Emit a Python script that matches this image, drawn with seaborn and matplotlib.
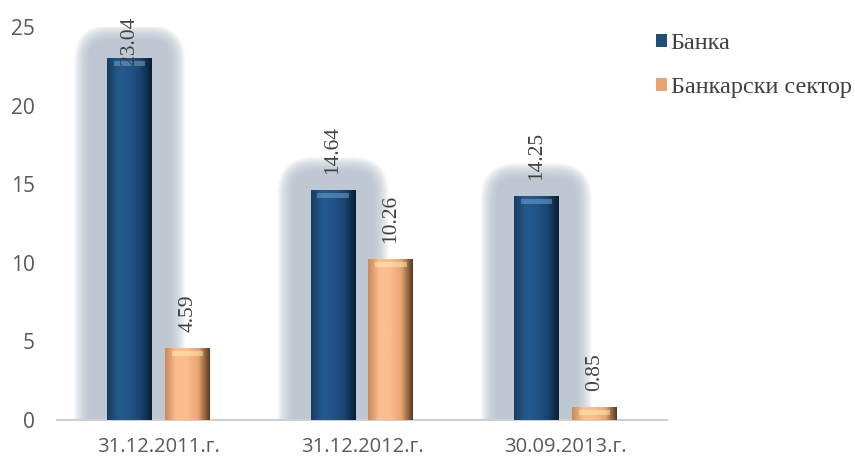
import numpy as np
import pandas as pd
import matplotlib
matplotlib.use("Agg")
import matplotlib.pyplot as plt
from matplotlib.patches import FancyBboxPatch
from matplotlib.colors import LinearSegmentedColormap
import seaborn as sns

dates = ["31.12.2011.г.", "31.12.2012.г.", "30.09.2013.г."]
bank = [23.04, 14.64, 14.25]
sector = [4.59, 10.26, 0.85]
series_names = ["Банка", "Банкарски сектор"]

df = pd.DataFrame({
    "date": dates * 2,
    "value": bank + sector,
    "series": [series_names[0]] * 3 + [series_names[1]] * 3,
})

sns.set_theme(style="white")
plt.rcParams["font.family"] = ["Open Sans", "DejaVu Sans"]

fig = plt.figure(figsize=(8.55, 4.59), dpi=100)
ax = fig.add_axes([57 / 855, 1 - 420 / 459, 610 / 855, 393 / 459])

sns.barplot(data=df, x="date", y="value", hue="series", order=dates,
            hue_order=series_names, palette=["#1f4e7a", "#f7b887"],
            width=0.57, gap=0.224, saturation=1, ax=ax, legend=False,
            zorder=3)

ax.set_ylim(0, 25)
ax.set_xlim(-0.5, 2.5)
ax.set_yticks([0, 5, 10, 15, 20, 25])
ax.set_xlabel("")
ax.set_ylabel("")
for s in ["top", "right", "left"]:
    ax.spines[s].set_visible(False)
ax.spines["bottom"].set_color("#d0d0d0")
ax.spines["bottom"].set_linewidth(1.5)
ax.tick_params(axis="both", length=0, labelsize=15, colors="#595959")
ax.tick_params(axis="y", pad=16)
ax.tick_params(axis="x", pad=12, labelsize=14.5)

# pixels -> data units
x_per_px = 3.0 / 610
y_per_px = 25.0 / 393
aspect = y_per_px / x_per_px

grad_blue = LinearSegmentedColormap.from_list(
    "gb", ["#173d63", "#235a8c", "#21558a", "#1a4570", "#0a1e33"])
grad_orange = LinearSegmentedColormap.from_list(
    "go", ["#c98a5c", "#fbbf90", "#fbbd8d", "#e8a473", "#5a3a22"])

for ci, cont in enumerate(ax.containers):
    for bar, val in zip(cont.patches, cont.datavalues):
        x0, w, h = bar.get_x(), bar.get_width(), bar.get_height()
        bar.set_edgecolor("none")
        if ci == 0:
            # soft halo behind the blue bars
            n = 16
            for k in range(n):
                pad = (33 - k * 1.0) * x_per_px
                glow = FancyBboxPatch(
                    (x0, -2), w, h + 2,
                    boxstyle=f"round,pad={pad},rounding_size={pad * 1.1}",
                    mutation_aspect=aspect, facecolor="#b3bdca",
                    edgecolor="none", alpha=0.09, zorder=1)
                ax.add_patch(glow)
        cmap = grad_blue if ci == 0 else grad_orange
        img = ax.imshow(np.linspace(0, 1, 64).reshape(1, -1), cmap=cmap,
                        extent=[x0, x0 + w, 0, h], aspect="auto", zorder=4)
        img.set_clip_path(bar)
        # top highlight
        ax.fill_between([x0 + w * 0.15, x0 + w * 0.85], h - 8 * y_per_px,
                        h - 3 * y_per_px,
                        color="#7fa6cf" if ci == 0 else "#fff0b0",
                        alpha=0.5, zorder=5, linewidth=0)
        ly = min(val + 16 * y_per_px, (420 - 65) * y_per_px)
        ax.text(x0 + w / 2, ly, f"{val:.2f}", rotation=90, ha="center",
                va="bottom", fontsize=15.5, color="#404040",
                family=["Liberation Serif"], zorder=6, clip_on=False)

ax.set_aspect("auto")
ax.set_xlim(-0.5, 2.5)
ax.set_ylim(0, 25)

handles = [plt.Rectangle((0, 0), 1, 1, facecolor=c, edgecolor="none")
           for c in ["#1f4e7a", "#e8a473"]]
leg = fig.legend(handles, series_names, loc="upper left",
                 bbox_to_anchor=(656 / 855, 1 - 33 / 459), frameon=False,
                 handlelength=0.45, handleheight=0.45, handletextpad=0.15,
                 labelspacing=0.95, borderpad=0, borderaxespad=0,
                 prop={"family": "Liberation Serif", "size": 17.5})
for t in leg.get_texts():
    t.set_color("#404040")

fig.savefig("out.png", dpi=100)
